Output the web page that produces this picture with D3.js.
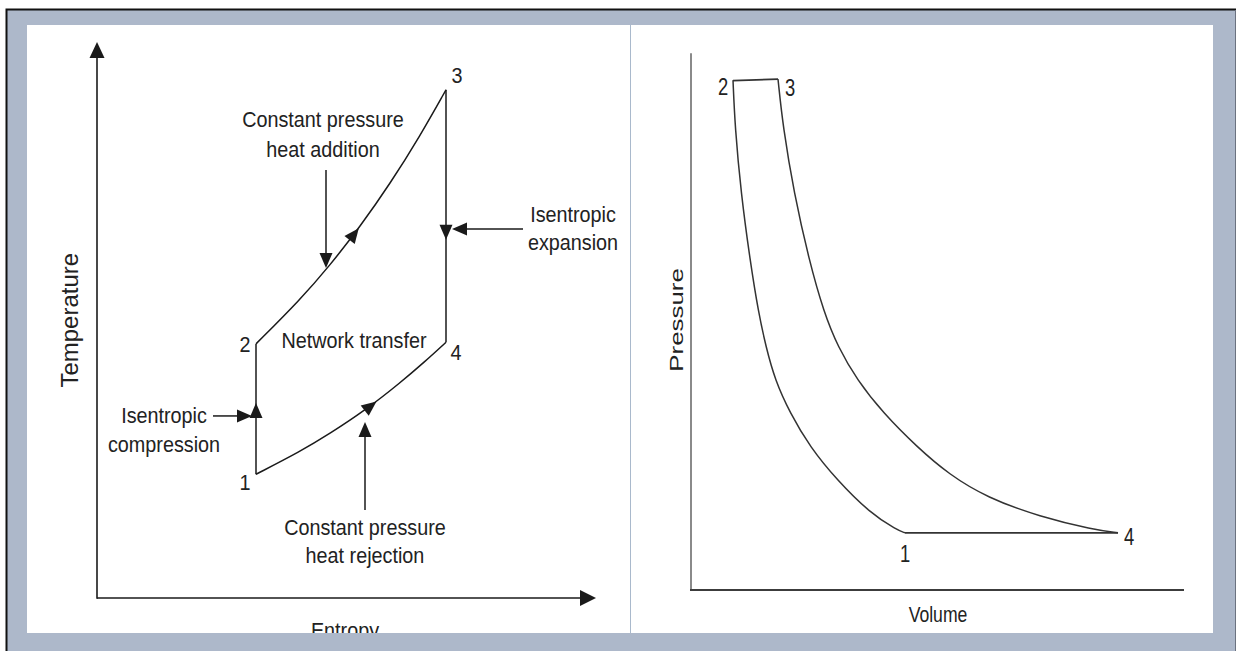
<!DOCTYPE html>
<meta charset="utf-8">
<style>
body { margin: 0; background: #fff; }
text { font-family: "Liberation Sans", Arial, Helvetica, sans-serif; fill: #222; }
</style>
<body>
<script src="https://cdn.jsdelivr.net/npm/d3@7"></script>
<script>

var W = 1236, H = 651;

// ---- T-s diagram (Entropy 0..100, Temperature 0..100) ----
var tsHeatAddition = [[31.8,46.2],[40.6,54.2],[46.6,60.5],[52.6,67.5],[58.6,75.3],[64.6,84.0],[69.8,92.4]];
var tsExpansion    = [[69.8,92.4],[69.8,46.5]];
var tsHeatRejection = [[31.8,22.5],[40.6,26.6],[46.6,29.9],[53.6,34.1],[60.6,39.1],[65.6,43.0],[69.8,46.5]];
var tsCompression  = [[31.8,22.5],[31.8,46.2]];
var tsStateLabels  = [["1",29.6,19.6],["2",29.6,44.7],["3",72,93.6],["4",71.8,43.3]];
var tsNotes = [
  [["Constant pressure","heat addition"], 45.2, [85.6,80.2]],
  [["Isentropic","expansion"], 95.2, [68.4,63.3]],
  [["Network transfer"], 51.4, [45.5]],
  [["Isentropic","compression"], 13.4, [31.8,26.5]],
  [["Constant pressure","heat rejection"], 53.6, [11.5,6.4]]
];
var tsPointers = [
  [[45.8,77.8],[45.8,60]],
  [[85.2,67.1],[71,67.1]],
  [[23.2,33.1],[31,33.1]],
  [[53.6,16],[53.6,32]]
];

// ---- P-v diagram (Volume 0..100, Pressure 0..100) ----
var pvCompression = [[8.4,92.7],[8.8,84.2],[10,72.2],[11.8,60],[13.5,50.4],[15,44.2],[16.8,38.2],
  [19.8,32.2],[23.8,26],[29.2,20],[35.8,14],[41.2,10.9],[42.8,10.4]];
var pvHeatAddition = [[8.4,92.6],[17.4,92.9]];
var pvExpansion = [[17.4,92.9],[18.4,84.2],[20.6,72.2],[23.6,60],[26.6,50.4],[29.4,44.2],[33.2,38.2],
  [38.4,32.2],[45.2,26],[51.6,21],[59.2,16.8],[69.8,13.3],[80.4,11],[85.4,10.4]];
var pvHeatRejection = [[42.8,10.4],[85.4,10.4]];
var pvStateLabels = [["1",42.8,5.1],["2",6.4,90],["3",19.8,89.8],["4",87.6,8.2]];

var svg = d3.select("body").append("svg").attr("width", W).attr("height", H);

// frame
svg.append("rect").attr("x", 6).attr("y", 9).attr("width", W - 6).attr("height", H - 9).attr("fill", "#adb8ca");
svg.append("path").attr("d", "M6.5,651V9.5H1236").attr("fill", "none").attr("stroke", "#111").attr("stroke-width", 2);
svg.append("line").attr("x1", 1235.5).attr("x2", 1235.5).attr("y1", 10).attr("y2", H).attr("stroke", "#6b7280");
svg.append("rect").attr("x", 27).attr("y", 25).attr("width", 1186).attr("height", 608).attr("fill", "#fff");
svg.append("line").attr("x1", 630.5).attr("x2", 630.5).attr("y1", 25).attr("y2", 633).attr("stroke", "#a9b9cc");

svg.append("clipPath").attr("id", "panel").append("rect")
  .attr("x", 27).attr("y", 25).attr("width", 1186).attr("height", 608);

function head(g, tip, angle, len, half, fill) {
  var c = Math.cos(angle), s = Math.sin(angle);
  var bx = tip[0] - c * len, by = tip[1] - s * len;
  g.append("path")
    .attr("d", "M" + tip + "L" + [bx - s * half, by + c * half] + "L" + [bx + s * half, by - c * half] + "Z")
    .attr("fill", fill || "#1a1a1a");
}

function arrow(g, a, b, len, half, color, width) {
  var ang = Math.atan2(b[1] - a[1], b[0] - a[0]);
  g.append("line").attr("x1", a[0]).attr("y1", a[1])
    .attr("x2", b[0] - Math.cos(ang) * (len - 2)).attr("y2", b[1] - Math.sin(ang) * (len - 2))
    .attr("stroke", color || "#1a1a1a").attr("stroke-width", width || 1.5);
  head(g, b, ang, len, half, color);
}

function flowMark(g, pts, idx, v, x, y) {
  for (var i = 0; i < pts.length - 1; i++) {
    var a = pts[i], b = pts[i + 1];
    var t = (v - a[idx]) / (b[idx] - a[idx]);
    if (t >= 0 && t <= 1) {
      var p = [x(a[0] + t * (b[0] - a[0])), y(a[1] + t * (b[1] - a[1]))];
      var ang = Math.atan2(y(b[1]) - y(a[1]), x(b[0]) - x(a[0]));
      var tip = [p[0] + Math.cos(ang) * 7, p[1] + Math.sin(ang) * 7];
      head(g, tip, ang, 15, 6.5);
      return;
    }
  }
}

function label(g, px, py, str, size, sx, rot) {
  g.append("g").attr("transform", "translate(" + px + "," + py + ")" + (rot ? " rotate(" + rot + ")" : ""))
    .append("text").attr("transform", "scale(" + sx + ",1)")
    .attr("text-anchor", "middle").style("font-size", size + "px").text(str);
}

// ================= left: T-s =================
var sX = d3.scaleLinear().domain([0, 100]).range([97, 597]);
var tY = d3.scaleLinear().domain([0, 100]).range([598, 48]);
var left = svg.append("g").attr("clip-path", "url(#panel)");
var tsLine = d3.line().x(function(d) { return sX(d[0]); }).y(function(d) { return tY(d[1]); });

// axes
arrow(left, [sX(0), tY(0)], [sX(0), tY(101.1)], 16, 7.5, "#1a1a1a", 1.6);
arrow(left, [sX(0), tY(0)], [sX(99.8), tY(0)], 16, 8, "#1a1a1a", 1.6);
left.append("line").attr("x1", sX(0)).attr("x2", sX(0)).attr("y1", tY(0) + 0.8).attr("y2", tY(0))
  .attr("stroke", "#1a1a1a").attr("stroke-width", 1.6);

[tsHeatAddition, tsExpansion, tsHeatRejection, tsCompression].forEach(function(pts) {
  left.append("path").attr("d", tsLine.curve(d3.curveBasis)(pts))
    .attr("fill", "none").attr("stroke", "#1a1a1a").attr("stroke-width", 1.5);
});

flowMark(left, tsHeatAddition, 0, 51.5, sX, tY);
flowMark(left, tsExpansion, 1, 66.4, sX, tY);
flowMark(left, tsCompression, 1, 34.2, sX, tY);
flowMark(left, tsHeatRejection, 0, 54.8, sX, tY);

tsPointers.forEach(function(p) {
  arrow(left, [sX(p[0][0]), tY(p[0][1])], [sX(p[1][0]), tY(p[1][1])], 15, 6.5, "#1a1a1a", 1.5);
});

tsStateLabels.forEach(function(d) { label(left, sX(d[1]), tY(d[2]), d[0], 22, 0.9); });
tsNotes.forEach(function(n) {
  n[0].forEach(function(str, i) { label(left, sX(n[1]), tY(n[2][i]), str, 22, 0.9); });
});
label(left, sX(49.6), tY(-7.3), "Entropy", 22, 0.9);
label(left, sX(-3.8), tY(50.5), "Temperature", 24, 1, -90);

// ================= right: P-v =================
var vX = d3.scaleLinear().domain([0, 100]).range([691, 1191]);
var pY = d3.scaleLinear().domain([0, 100]).range([590, 40]);
var right = svg.append("g").attr("clip-path", "url(#panel)");
var pvLine = d3.line().x(function(d) { return vX(d[0]); }).y(function(d) { return pY(d[1]); });

right.append("line").attr("x1", vX(0)).attr("x2", vX(0)).attr("y1", pY(0)).attr("y2", pY(97.6))
  .attr("stroke", "#8a8a8a").attr("stroke-width", 2);
right.append("line").attr("x1", vX(0) - 1).attr("x2", vX(98.6)).attr("y1", pY(0)).attr("y2", pY(0))
  .attr("stroke", "#3c3c3c").attr("stroke-width", 2);

[pvCompression, pvExpansion].forEach(function(pts) {
  right.append("path").attr("d", pvLine.curve(d3.curveBasis)(pts))
    .attr("fill", "none").attr("stroke", "#333").attr("stroke-width", 1.5);
});
[pvHeatAddition, pvHeatRejection].forEach(function(pts) {
  right.append("path").attr("d", pvLine.curve(d3.curveLinear)(pts))
    .attr("fill", "none").attr("stroke", "#333").attr("stroke-width", 1.7);
});

pvStateLabels.forEach(function(d) { label(right, vX(d[1]), pY(d[2]), d[0], 23, 0.8); });
label(right, vX(49.4), pY(-5.8), "Volume", 22, 0.8);
label(right, vX(-1.6), pY(49.1), "Pressure", 18.5, 1.4, -90);

</script>
</body>
